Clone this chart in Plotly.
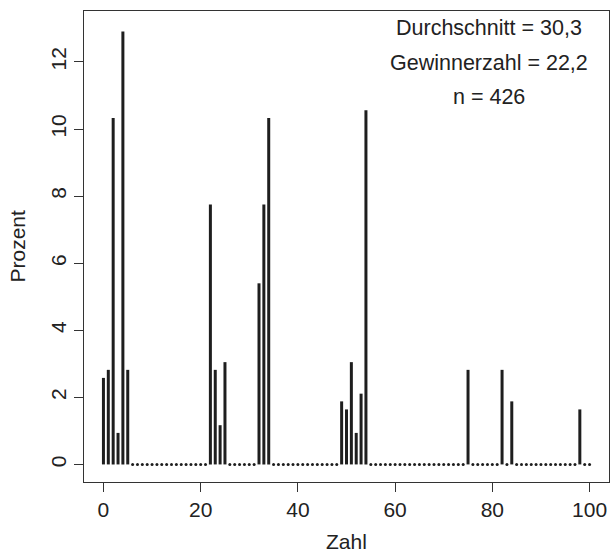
import plotly.graph_objects as go

# Data: percent of guesses per number (n = 426)
zahl_nonzero = [0, 1, 2, 3, 4, 5, 22, 23, 24, 25, 32, 33, 34, 49, 50, 51, 52, 53, 54, 75, 82, 84, 98]
prozent_nonzero = [2.58, 2.82, 10.33, 0.94, 12.91, 2.82,
                   7.75, 2.82, 1.17, 3.05,
                   5.40, 7.75, 10.33,
                   1.88, 1.64, 3.05, 0.94, 2.11, 10.56,
                   2.82, 2.82, 1.88, 1.64]
zahl_all = list(range(0, 101))
x_ticks = [0, 20, 40, 60, 80, 100]
y_ticks = [0, 2, 4, 6, 8, 10, 12]
stats_text = ["Durchschnitt = 30,3", "Gewinnerzahl = 22,2", "n = 426"]

lookup = dict(zip(zahl_nonzero, prozent_nonzero))
values = [lookup.get(z, 0.0) for z in zahl_all]

seg_x, seg_y = [], []
for z, v in zip(zahl_all, values):
    if v > 0:
        seg_x += [z, z, None]
        seg_y += [0, v, None]
zero_x = [z for z, v in zip(zahl_all, values) if v == 0]
zero_y = [0 for _ in zero_x]

ink = "#1e1e1e"
font = "Liberation Sans, Arial, sans-serif"
fs = 21

fig = go.Figure()
fig.add_trace(go.Scatter(x=seg_x, y=seg_y, mode="lines",
                         line=dict(color=ink, width=3), hoverinfo="skip",
                         showlegend=False))
fig.add_trace(go.Scatter(x=zero_x, y=zero_y, mode="markers",
                         marker=dict(color=ink, size=3, symbol="circle", line=dict(width=0)),
                         showlegend=False))

fig.update_layout(
    width=611, height=554,
    margin=dict(l=84, r=1.5, t=11, b=71.7),
    paper_bgcolor="white", plot_bgcolor="white",
    font=dict(family=font, size=fs, color="#222222"),
    showlegend=False,
)
fig.update_xaxes(range=[-4, 104], tickvals=x_ticks, ticktext=[str(t) for t in x_ticks],
                 showgrid=False, zeroline=False, showline=True, mirror=True,
                 linecolor="#333333", linewidth=1,
                 ticks="outside", ticklen=9, tickcolor="#333333", tickwidth=1,
                 ticklabelstandoff=0)
fig.update_yaxes(range=[-0.524, 13.52], tickvals=y_ticks, ticktext=[str(t) for t in y_ticks],
                 showgrid=False, zeroline=False, showline=True, mirror=True,
                 linecolor="#333333", linewidth=1,
                 ticks="outside", ticklen=9, tickcolor="#333333", tickwidth=1,
                 tickangle=-90, ticklabelstandoff=0)

fig.add_annotation(text="Zahl", xref="paper", yref="paper", x=0.5, y=0,
                   yshift=-59, showarrow=False, yanchor="middle",
                   font=dict(size=fs))
fig.add_annotation(text="Prozent", xref="paper", yref="paper", x=0, y=0.5,
                   xshift=-67, showarrow=False, textangle=-90, xanchor="center",
                   font=dict(size=fs))

for i, t in enumerate(stats_text):
    fig.add_annotation(text=t, xref="paper", yref="paper", x=0.771, y=1,
                       yshift=-17 - 34.5 * i, showarrow=False,
                       xanchor="center", yanchor="middle", font=dict(size=fs + 0.5))

fig.write_html(
    "out.html",
    config={"displayModeBar": False},
    post_script="document.body.style.margin='0';document.body.style.overflow='hidden';",
)
